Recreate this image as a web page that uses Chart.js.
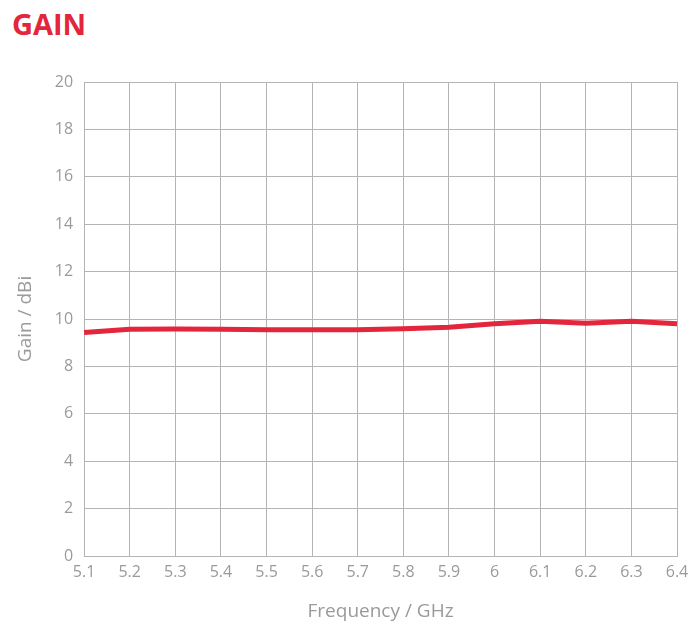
<!DOCTYPE html>
<html>
<head>
<meta charset="utf-8">
<script src="https://cdn.jsdelivr.net/npm/chart.js@4"></script>
<style>
  body { margin: 0; background: #fff; }
  #title {
    position: absolute; left: 12px; top: 4px;
    font-family: "Open Sans", sans-serif; font-weight: 700;
    font-size: 29px; color: #e3263b;
  }
  #wrap { position: absolute; left: 0; top: 0; width: 700px; height: 631px; }
</style>
</head>
<body>
<div id="title">GAIN</div>
<div id="wrap"><canvas id="gainChart"></canvas></div>
<script>
// frequency points (GHz)
const frequencies = ['5.1', '5.2', '5.3', '5.4', '5.5', '5.6', '5.7', '5.8', '5.9', '6', '6.1', '6.2', '6.3', '6.4'];
// gain (dBi)
const gainValues = [9.43, 9.57, 9.58, 9.57, 9.55, 9.55, 9.55, 9.59, 9.65, 9.8, 9.9, 9.82, 9.9, 9.8];
const yTicks = [0, 2, 4, 6, 8, 10, 12, 14, 16, 18, 20];

const grey = '#9a9a9a';
const gridColor = '#b4b4b4';

const ctx = document.getElementById('gainChart').getContext('2d');
new Chart(ctx, {
  type: 'line',
  data: {
    labels: frequencies,
    datasets: [{
      label: 'Gain',
      data: gainValues,
      borderColor: '#e3263b',
      borderWidth: 5,
      pointRadius: 0,
      tension: 0,
      fill: false,
    }],
  },
  options: {
    responsive: true,
    maintainAspectRatio: false,
    animation: false,
    layout: { padding: { top: 82, right: 23, bottom: 8, left: 14 } },
    plugins: { legend: { display: false }, tooltip: { enabled: false } },
    scales: {
      x: {
        offset: false,
        grid: { color: gridColor, lineWidth: 1, drawTicks: false },
        border: { color: gridColor },
        ticks: { color: grey, font: { family: 'Open Sans', size: 16 }, padding: 7, maxRotation: 0, autoSkip: false },
        title: { display: true, text: 'Frequency / GHz', color: grey, font: { family: 'Open Sans', size: 19 }, padding: { top: 11, bottom: 0 } },
      },
      y: {
        min: 0,
        max: 20,
        afterBuildTicks: (axis) => { axis.ticks = yTicks.map((v) => ({ value: v })); },
        grid: { color: gridColor, lineWidth: 1, drawTicks: false },
        border: { color: gridColor },
        ticks: { color: grey, font: { family: 'Open Sans', size: 16 }, padding: 11 },
        title: { display: true, text: 'Gain / dBi', color: grey, font: { family: 'Open Sans', size: 19 }, padding: { top: 0, bottom: 7 } },
      },
    },
  },
});
</script>
</body>
</html>
